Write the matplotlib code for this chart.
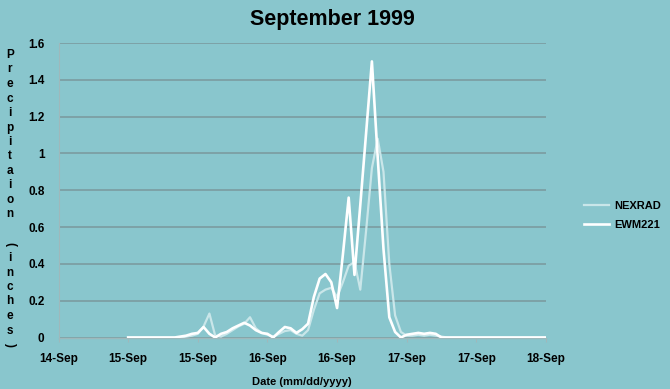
import matplotlib
matplotlib.use("Agg")
import matplotlib.pyplot as plt
import numpy as np

# ---- data (hourly, hours from the "15-Sep" tick) ----
hours = list(range(0, 73))
ewm221 = ([0.0] * 9 +
          [0.005, 0.01, 0.02, 0.025, 0.057, 0.02, 0.0, 0.02, 0.03, 0.05,
           0.065, 0.08, 0.065, 0.04, 0.025, 0.02, 0.0, 0.03, 0.057, 0.05,
           0.025, 0.045, 0.075, 0.22, 0.32, 0.345, 0.30, 0.16, 0.45, 0.76,
           0.34, 0.72, 1.11, 1.50, 0.98, 0.48, 0.11, 0.03, 0.0, 0.015,
           0.02, 0.025, 0.02, 0.025, 0.02, 0.0] +
          [0.0] * 18)
nexrad = ([0.0] * 10 +
          [0.005, 0.01, 0.02, 0.06, 0.13, 0.01, 0.005, 0.02, 0.04, 0.06,
           0.075, 0.11, 0.05, 0.025, 0.015, 0.005, 0.02, 0.035, 0.04, 0.02,
           0.01, 0.04, 0.15, 0.24, 0.26, 0.27, 0.22, 0.30, 0.39, 0.41,
           0.26, 0.58, 0.92, 1.08, 0.90, 0.40, 0.12, 0.03, 0.01, 0.01,
           0.015, 0.01, 0.015, 0.01, 0.005] +
          [0.0] * 18)
tick_hours = [-12, 0, 12, 24, 36, 48, 60, 72]
tick_labels = ["14-Sep", "15-Sep", "15-Sep", "16-Sep", "16-Sep",
               "17-Sep", "17-Sep", "18-Sep"]
y_ticks = [0, 0.2, 0.4, 0.6, 0.8, 1.0, 1.2, 1.4, 1.6]
y_tick_labels = ["0", "0.2", "0.4", "0.6", "0.8", "1", "1.2", "1.4", "1.6"]

BG = "#89c6cd"
GRID = "#7c9fa3"
NEX_COLOR = "#c9e6e9"

plt.rcParams['font.family'] = ['Liberation Sans', 'DejaVu Sans']

fig = plt.figure(figsize=(6.7, 3.89), dpi=100, facecolor=BG)
ax = fig.add_axes([58.5 / 670, 1 - 337.5 / 389, (546 - 58.5) / 670, (337.5 - 43) / 389])
ax.set_facecolor(BG)

ax.plot(hours, nexrad, color=NEX_COLOR, lw=1.6, label="NEXRAD", zorder=3)
ax.plot(hours, ewm221, color="white", lw=1.9, label="EWM221", zorder=4)

ax.set_xlim(-12, 72)
ax.set_ylim(0, 1.6)
ax.set_yticks(y_ticks)
ax.set_yticklabels(y_tick_labels, fontsize=8.5, fontweight="bold")
ax.set_xticks(tick_hours)
ax.set_xticklabels(tick_labels, fontsize=8.5, fontweight="bold")
ax.yaxis.grid(True, color=GRID, lw=1.3)
ax.set_axisbelow(True)
ax.tick_params(axis="y", length=0, pad=10)
ax.tick_params(axis="x", length=3, color="#9fb8bb", pad=8)
for s in ["top", "right"]:
    ax.spines[s].set_visible(False)
ax.spines["left"].set_color("#9fb8bb")
ax.spines["bottom"].set_color("#9fb8bb")
ax.spines["left"].set_linewidth(0.8)
ax.spines["bottom"].set_linewidth(1.0)

ax.set_xlabel("Date (mm/dd/yyyy)", fontsize=8, fontweight="bold", labelpad=9)

fig.text(0.496, 1 - 19 / 389, "September 1999", ha="center", va="center",
         fontsize=15.5, fontweight="bold")

# stacked vertical y-axis label
label_chars = list("Precipitaion") + [" "] + list("(inches)")
ys = np.linspace(55, 345, len(label_chars))
for ch, yp in zip(label_chars, ys):
    rot = -90 if ch in "()" else 0
    fig.text(10 / 670, 1 - yp / 389, ch, ha="center", va="center",
             fontsize=8.5, fontweight="bold", rotation=rot)

leg = ax.legend(loc="center left", bbox_to_anchor=(1.058, 0.415), frameon=False,
                prop={"size": 8, "weight": "bold"}, handlelength=2.2,
                handletextpad=0.5, labelspacing=0.8)

fig.savefig("out.png", dpi=100, facecolor=BG)
